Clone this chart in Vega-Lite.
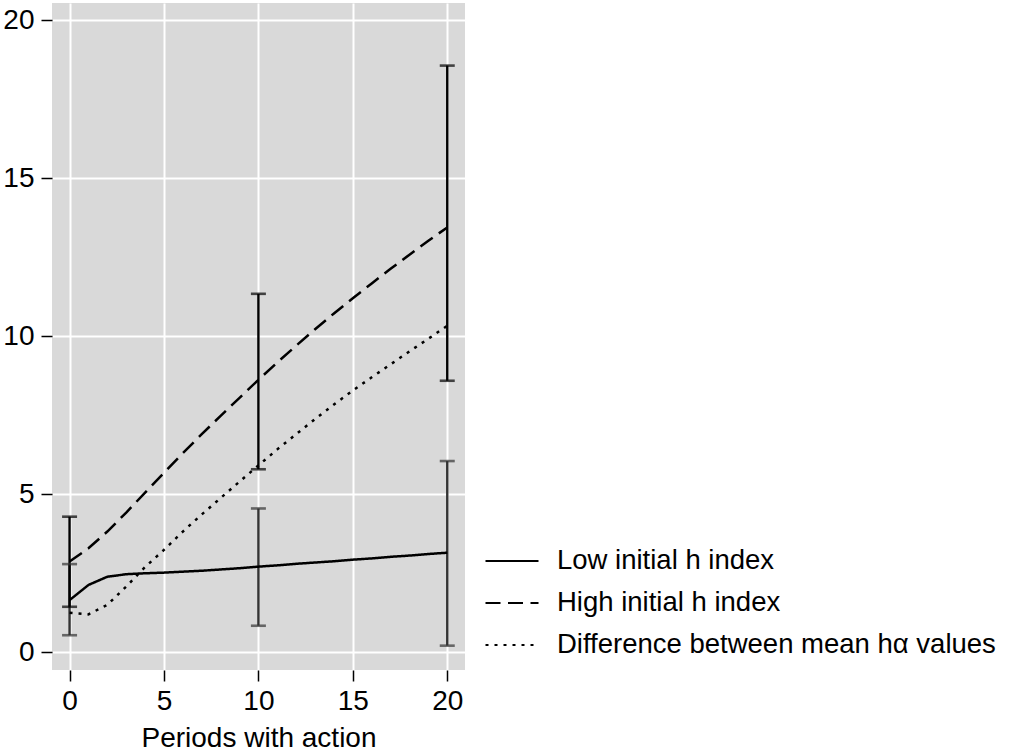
{
  "$schema": "https://vega.github.io/schema/vega-lite/v6.json",
  "width": 413,
  "height": 667,
  "autosize": "none",
  "padding": {"left": 52, "top": 3, "right": 545, "bottom": 82},
  "background": "white",
  "config": {
    "view": {"fill": "#d9d9d9", "stroke": null},
    "font": "Liberation Sans",
    "axis": {
      "grid": true,
      "gridColor": "white",
      "gridWidth": 2,
      "domain": false,
      "tickColor": "black",
      "tickWidth": 1.5,
      "tickSize": 11,
      "labelFont": "Liberation Sans",
      "labelFontSize": 28,
      "labelColor": "black",
      "titleFont": "Liberation Sans",
      "titleFontSize": 28,
      "titleFontWeight": "normal",
      "titleColor": "black"
    },
    "legend": {
      "orient": "none",
      "legendX": 432,
      "legendY": 530,
      "padding": 0,
      "labelFont": "Liberation Sans",
      "labelFontSize": 27.5,
      "labelColor": "black",
      "labelOffset": 17,
      "symbolType": "stroke",
      "symbolSize": 2809,
      "symbolStrokeWidth": 2.2,
      "symbolStrokeColor": "black",
      "rowPadding": -15,
      "labelLimit": 600
    }
  },
  "datasets": {
    "lines": [
      {"period": 0, "series": "Low initial h index", "value": 1.65},
      {"period": 1, "series": "Low initial h index", "value": 2.13},
      {"period": 2, "series": "Low initial h index", "value": 2.39},
      {"period": 3, "series": "Low initial h index", "value": 2.47},
      {"period": 4, "series": "Low initial h index", "value": 2.5},
      {"period": 5, "series": "Low initial h index", "value": 2.52},
      {"period": 6, "series": "Low initial h index", "value": 2.55},
      {"period": 7, "series": "Low initial h index", "value": 2.58},
      {"period": 8, "series": "Low initial h index", "value": 2.62},
      {"period": 9, "series": "Low initial h index", "value": 2.66},
      {"period": 10, "series": "Low initial h index", "value": 2.71},
      {"period": 11, "series": "Low initial h index", "value": 2.75},
      {"period": 12, "series": "Low initial h index", "value": 2.8},
      {"period": 13, "series": "Low initial h index", "value": 2.84},
      {"period": 14, "series": "Low initial h index", "value": 2.88},
      {"period": 15, "series": "Low initial h index", "value": 2.93},
      {"period": 16, "series": "Low initial h index", "value": 2.97},
      {"period": 17, "series": "Low initial h index", "value": 3.02},
      {"period": 18, "series": "Low initial h index", "value": 3.06},
      {"period": 19, "series": "Low initial h index", "value": 3.11},
      {"period": 20, "series": "Low initial h index", "value": 3.15},
      {"period": 0, "series": "High initial h index", "value": 2.87},
      {"period": 1, "series": "High initial h index", "value": 3.29},
      {"period": 2, "series": "High initial h index", "value": 3.82},
      {"period": 3, "series": "High initial h index", "value": 4.42},
      {"period": 4, "series": "High initial h index", "value": 5.05},
      {"period": 5, "series": "High initial h index", "value": 5.68},
      {"period": 6, "series": "High initial h index", "value": 6.3},
      {"period": 7, "series": "High initial h index", "value": 6.9},
      {"period": 8, "series": "High initial h index", "value": 7.48},
      {"period": 9, "series": "High initial h index", "value": 8.05},
      {"period": 10, "series": "High initial h index", "value": 8.62},
      {"period": 11, "series": "High initial h index", "value": 9.17},
      {"period": 12, "series": "High initial h index", "value": 9.7},
      {"period": 13, "series": "High initial h index", "value": 10.22},
      {"period": 14, "series": "High initial h index", "value": 10.72},
      {"period": 15, "series": "High initial h index", "value": 11.2},
      {"period": 16, "series": "High initial h index", "value": 11.67},
      {"period": 17, "series": "High initial h index", "value": 12.13},
      {"period": 18, "series": "High initial h index", "value": 12.58},
      {"period": 19, "series": "High initial h index", "value": 13.02},
      {"period": 20, "series": "High initial h index", "value": 13.44},
      {"period": 0, "series": "Difference between mean hα values", "value": 1.25},
      {"period": 1, "series": "Difference between mean hα values", "value": 1.2},
      {"period": 2, "series": "Difference between mean hα values", "value": 1.5},
      {"period": 3, "series": "Difference between mean hα values", "value": 2.08},
      {"period": 4, "series": "Difference between mean hα values", "value": 2.7},
      {"period": 5, "series": "Difference between mean hα values", "value": 3.24},
      {"period": 6, "series": "Difference between mean hα values", "value": 3.82},
      {"period": 7, "series": "Difference between mean hα values", "value": 4.36},
      {"period": 8, "series": "Difference between mean hα values", "value": 4.88},
      {"period": 9, "series": "Difference between mean hα values", "value": 5.4},
      {"period": 10, "series": "Difference between mean hα values", "value": 5.91},
      {"period": 11, "series": "Difference between mean hα values", "value": 6.42},
      {"period": 12, "series": "Difference between mean hα values", "value": 6.9},
      {"period": 13, "series": "Difference between mean hα values", "value": 7.38},
      {"period": 14, "series": "Difference between mean hα values", "value": 7.84},
      {"period": 15, "series": "Difference between mean hα values", "value": 8.28},
      {"period": 16, "series": "Difference between mean hα values", "value": 8.7},
      {"period": 17, "series": "Difference between mean hα values", "value": 9.11},
      {"period": 18, "series": "Difference between mean hα values", "value": 9.52},
      {"period": 19, "series": "Difference between mean hα values", "value": 9.92},
      {"period": 20, "series": "Difference between mean hα values", "value": 10.33}
    ],
    "errs": [
      {"period": 0, "group": "Low", "lo": 0.54, "hi": 2.79},
      {"period": 10, "group": "Low", "lo": 0.84, "hi": 4.55},
      {"period": 20, "group": "Low", "lo": 0.21, "hi": 6.05},
      {"period": 0, "group": "High", "lo": 1.44, "hi": 4.29},
      {"period": 10, "group": "High", "lo": 5.79, "hi": 11.34},
      {"period": 20, "group": "High", "lo": 8.59, "hi": 18.56}
    ]
  },
  "encoding": {
    "x": {
      "field": "period",
      "type": "quantitative",
      "scale": {"domain": [-0.93, 20.94], "nice": false, "zero": false},
      "axis": {"values": [0, 5, 10, 15, 20], "title": "Periods with action", "labelPadding": 6, "titlePadding": 9}
    }
  },
  "layer": [
    {
      "data": {"name": "errs"},
      "mark": {"type": "rule", "strokeWidth": 2.4},
      "encoding": {
        "y": {"field": "lo", "type": "quantitative", "scale": {"domain": [-0.56, 20.54], "nice": false, "zero": false}, "axis": {"values": [0, 5, 10, 15, 20], "title": null, "labelPadding": 7}},
        "y2": {"field": "hi"},
        "color": {"field": "group", "type": "nominal", "scale": {"domain": ["High", "Low"], "range": ["#000000", "#333333"]}, "legend": null}
      }
    },
    {
      "data": {"name": "errs"},
      "mark": {"type": "tick", "orient": "horizontal", "size": 15, "thickness": 2.6},
      "encoding": {
        "y": {"field": "lo", "type": "quantitative"},
        "color": {"field": "group", "type": "nominal", "legend": null}
      }
    },
    {
      "data": {"name": "errs"},
      "mark": {"type": "tick", "orient": "horizontal", "size": 15, "thickness": 2.6},
      "encoding": {
        "y": {"field": "hi", "type": "quantitative"},
        "color": {"field": "group", "type": "nominal", "legend": null}
      }
    },
    {
      "data": {"name": "lines"},
      "mark": {"type": "line", "color": "black", "strokeWidth": 2.5},
      "encoding": {
        "y": {"field": "value", "type": "quantitative"},
        "strokeDash": {
          "field": "series",
          "type": "nominal",
          "scale": {
            "domain": ["Low initial h index", "High initial h index", "Difference between mean hα values"],
            "range": [[1, 0], [15, 7.5], [3, 6]]
          },
          "legend": {"title": null}
        }
      }
    }
  ]
}
